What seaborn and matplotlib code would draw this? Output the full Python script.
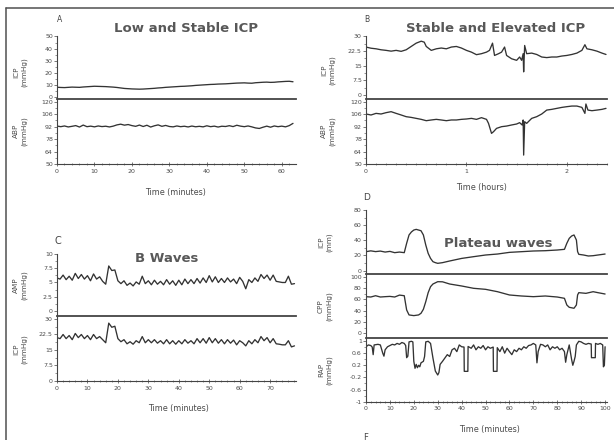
import matplotlib
matplotlib.use("Agg")
import matplotlib.pyplot as plt
import seaborn as sns
from matplotlib.ticker import MultipleLocator, AutoMinorLocator, FixedLocator, FixedFormatter
from matplotlib.lines import Line2D

# ---------------- data ----------------
# Panel A: Low and Stable ICP (time in minutes)
A_time = list(range(64))
A_icp = [8.2, 8.0, 7.9, 8.1, 8.3, 8.2, 8.1, 8.4, 8.6, 8.8, 9.0, 8.9, 8.8, 8.7, 8.5, 8.3,
         8.0, 7.6, 7.2, 7.0, 6.8, 6.7, 6.6, 6.7, 6.9, 7.1, 7.3, 7.6, 7.8, 8.1, 8.3, 8.5,
         8.7, 8.9, 9.0, 9.2, 9.4, 9.7, 9.9, 10.1, 10.3, 10.5, 10.6, 10.8, 10.9, 11.0, 11.2, 11.4,
         11.6, 11.7, 11.8, 11.6, 11.5, 11.9, 12.1, 12.3, 12.4, 12.2, 12.3, 12.6, 12.8, 13.0, 13.1, 12.7]
A_abp = [92.5, 91.8, 92.6, 91.5, 92.2, 93.0, 91.4, 93.6, 91.8, 92.4, 91.6, 92.6, 91.9, 92.3, 91.5, 92.4,
         93.8, 94.6, 93.5, 94.2, 93.0, 92.2, 93.6, 92.0, 93.4, 91.4, 92.8, 93.8, 92.2, 93.2, 92.0, 91.6,
         92.6, 91.8, 92.3, 91.5, 92.5, 91.7, 92.2, 91.6, 92.8, 91.8, 92.4, 91.4, 92.3, 92.0, 92.9, 91.9,
         93.4, 92.4, 91.8, 92.6, 91.6, 90.4, 89.8, 91.2, 92.4, 91.2, 92.6, 91.8, 92.4, 91.6, 93.0, 95.5]

# Panel B: Stable and Elevated ICP (time in hours)
B_icp_time = [0, 0.05, 0.1, 0.15, 0.2, 0.25, 0.3, 0.35, 0.4, 0.45,
              0.5, 0.55, 0.58, 0.6, 0.65, 0.7, 0.75, 0.8, 0.85, 0.9,
              0.95, 1.0, 1.05, 1.1, 1.15, 1.2, 1.23, 1.26, 1.28, 1.32,
              1.35, 1.38, 1.4, 1.45, 1.5, 1.53, 1.55, 1.565, 1.57, 1.58,
              1.6, 1.65, 1.7, 1.75, 1.8, 1.85, 1.9, 1.95, 2.0, 2.05,
              2.1, 2.15, 2.18, 2.2, 2.25, 2.3, 2.35, 2.39]
B_icp = [24.6, 24.0, 23.7, 23.2, 22.9, 22.5, 22.9, 22.4, 23.2, 24.9,
         26.6, 27.6, 27.1, 24.9, 22.9, 23.7, 24.1, 23.7, 24.6, 24.9,
         24.1, 22.9, 22.0, 20.7, 21.2, 22.0, 22.9, 26.6, 20.3, 21.2,
         22.0, 24.6, 20.3, 18.6, 17.8, 19.5, 17.8, 21.2, 11.9, 25.4,
         21.2, 21.5, 20.8, 19.5, 19.2, 19.5, 19.5, 20.0, 20.3, 20.8,
         21.5, 22.9, 25.8, 23.7, 23.2, 22.5, 21.5, 20.8]
B_abp_time = [0, 0.05, 0.1, 0.15, 0.2, 0.25, 0.3, 0.35, 0.4, 0.45,
              0.5, 0.55, 0.6, 0.65, 0.7, 0.75, 0.8, 0.85, 0.9, 0.95,
              1.0, 1.05, 1.1, 1.15, 1.2, 1.22, 1.25, 1.27, 1.3, 1.35,
              1.4, 1.45, 1.5, 1.53, 1.555, 1.565, 1.57, 1.58, 1.6, 1.65,
              1.7, 1.75, 1.8, 1.85, 1.9, 1.95, 2.0, 2.05, 2.1, 2.15,
              2.18, 2.19, 2.21, 2.25, 2.3, 2.35, 2.39]
B_abp = [106.0, 104.9, 106.7, 106.0, 107.5, 108.6, 106.7, 104.9, 103.0, 102.2,
         101.1, 100.0, 98.5, 99.3, 100.0, 99.3, 98.5, 99.3, 99.3, 100.0,
         100.4, 101.1, 100.0, 101.9, 100.0, 95.5, 84.3, 86.2, 89.9, 91.8,
         92.5, 93.7, 94.8, 96.3, 93.7, 99.3, 60.0, 97.4, 95.5, 101.1,
         103.0, 106.0, 110.4, 111.2, 112.3, 113.4, 114.2, 114.9, 114.9, 113.4,
         106.7, 117.2, 110.4, 109.7, 110.4, 111.2, 112.3]

# Panel C: B Waves (time in minutes)
C_time = list(range(79))
C_amp = [5.8, 5.6, 6.3, 5.5, 6.1, 5.4, 6.6, 5.7, 6.4, 5.6, 6.2, 5.3, 6.5, 5.6, 6.0, 5.2, 4.7, 7.9, 7.1, 7.2,
         5.3, 4.8, 5.3, 4.5, 4.9, 4.4, 5.1, 4.7, 6.1, 4.8, 5.3, 4.6, 5.4, 4.7, 5.2, 4.6, 5.5, 4.7, 5.3, 4.5,
         5.4, 4.6, 5.6, 4.8, 5.5, 4.8, 5.7, 4.9, 5.8, 5.0, 6.2, 5.1, 6.0, 5.0, 5.7, 5.0, 5.8, 5.1, 5.6, 4.8,
         5.9, 5.2, 3.9, 5.5, 5.0, 5.8, 5.2, 6.4, 5.7, 6.3, 5.4, 6.3, 5.2, 5.1, 5.0, 5.0, 6.1, 4.7, 4.8]
C_icp = [21, 20.5, 22.5, 20.5, 22, 20, 23, 21, 22.5, 20.5, 22, 20, 22.5, 20.5, 21.5, 20, 18.5, 28, 26, 26.5,
         20.5, 19, 20, 18, 19, 17.8, 19.5, 18.5, 21.5, 18.5, 20, 18.5, 20, 18.3, 19.5, 18, 20, 18, 19.5, 17.8,
         19.5, 18, 20, 18.3, 19.5, 18, 20.5, 18.5, 20.5, 18.3, 21, 18.5, 20.5, 18.3, 20, 18, 20, 18.3, 19.8, 17.5,
         19.5, 18.5, 17, 19.5, 18, 20, 18.5, 21.5, 19.5, 21, 18.5, 20.5, 18, 17.8, 17.5, 17.5, 19.5, 16.5, 17]

# Panel D: Plateau waves (time in minutes)
D_icp_time = [0, 2, 4, 6, 8, 10, 12, 14, 16, 17, 18, 19, 20, 21, 22, 23, 24, 25, 26, 27, 28, 29, 30,
              32, 35, 40, 45, 50, 55, 60, 65, 70, 75, 80, 83, 84, 85, 86, 87, 88, 88.5, 89,
              91, 93, 95, 97, 100]
D_icp = [24.9, 26, 25, 25.7, 24.4, 25.3, 23.6, 24.4, 23.6, 36, 47, 51, 53.5, 54.4, 53.5, 52.6, 47, 33.7,
         22.7, 16, 11.7, 10.4, 9.5, 10.4, 12.6, 16, 18.3, 20.5, 21.8, 24, 24.9, 25.8, 26.2, 27.1,
         28, 36, 42.5, 45.6, 47, 40.3, 25, 21.4, 20.5, 19.2, 19.6, 20.5, 21.8]
D_cpp_time = [0, 2, 4, 6, 8, 10, 12, 14, 16, 17, 18, 20, 22, 23, 24, 25, 26, 27, 28,
              30, 32, 35, 40, 45, 50, 55, 60, 65, 70, 75, 80, 83, 84, 85, 87, 88, 88.5, 89, 92,
              95, 97, 100]
D_cpp = [64.7, 64.1, 66.4, 64.1, 64.7, 65.2, 64.1, 67.5, 66.4, 41.2, 32.4, 31.2, 32.4, 35.3, 42.4,
         55.9, 71.8, 82.4, 87.1, 91.2, 91, 87.1, 83.6, 79.5, 77.7, 73.5, 67.7, 65.9, 64.7, 65.9,
         64.1, 61.8, 50, 45.9, 44.2, 50, 67.7, 71.8, 70.6, 73.5, 71.8, 69.4]
D_rap_time = [0, 1, 2, 2.6, 3, 3.4, 5, 6, 7, 7.5, 8, 9, 10, 11, 12, 13, 14, 15, 16, 16.6, 17, 17.5,
              18, 19, 19.6, 20, 20.5, 21, 21.5, 22, 22.5, 23, 24, 24.5, 25, 26, 27, 28, 29, 30,
              30.5, 31, 32, 33, 34, 35, 36, 37, 38, 39, 40, 41, 41.1, 42.6, 42.7, 44, 45, 46, 47,
              48, 49, 50, 51, 52, 53.2, 53.3, 54.8, 54.9, 56, 57, 58, 59, 60, 61, 62, 63, 64, 65,
              66, 67, 68, 69, 70, 71, 71.5, 72, 73, 74, 75, 76, 77, 78, 79, 80, 81, 82, 83, 83.5,
              84, 85, 86, 86.5, 87, 87.5, 88, 89, 90, 91, 92, 93, 94.2, 94.3, 95.9, 96, 97, 98,
              99, 99.3, 99.7, 100]
D_rap = [0.81, 0.87, 0.85, 0.8, 0.55, 0.87, 0.89, 0.87, 0.6, 0.5, 0.71, 0.81, 0.85, 0.89, 0.87, 0.92,
         0.89, 0.95, 0.92, 0.85, 0.45, 0.5, 0.97, 0.99, 0.97, 0.33, 0.1, 0.23, 0.12, 0.2, 0.15, 0.28,
         0.33, 0.49, 0.97, 0.99, 0.92, 0.44, 0.01, -0.12, -0.04, 0.23, 0.33, 0.44, 0.55, 0.49, 0.71,
         0.76, 0.65, 0.87, 0.81, 0.8, 0.0, 0.0, 0.82, 0.76, 0.87, 0.71, 0.81, 0.76, 0.85, 0.71, 0.81,
         0.76, 0.8, 0.0, 0.0, 0.78, 0.65, 0.81, 0.6, 0.76, 0.65, 0.55, 0.71, 0.65, 0.76, 0.71, 0.81,
         0.76, 0.85, 0.87, 0.92, 0.87, 0.28, 0.65, 0.89, 0.87, 0.81, 0.87, 0.71, 0.81, 0.76, 0.81,
         0.71, 0.76, 0.65, 0.3, 0.55, 0.87, 0.39, 0.2, 0.33, 0.49, 0.87, 0.99, 0.97, 0.92, 0.89,
         0.92, 0.9, 0.45, 0.45, 0.92, 0.89, 0.92, 0.87, 0.15, 0.2, 0.81]

# ---------------- figure ----------------
sns.set_theme(style="white")
plt.rcParams['font.family'] = ['DejaVu Sans']
plt.rcParams['axes.unicode_minus'] = False

W, H = 614, 440
fig = plt.figure(figsize=(W / 100, H / 100), dpi=100)
fig.patch.set_facecolor('white')

LINE = '#333333'
TXT = '#4a4a4a'
SP = '#444444'


def axes_px(x0, x1, yt, yb):
    return fig.add_axes([x0 / W, 1 - yb / H, (x1 - x0) / W, (yb - yt) / H])


def fx(x):
    return x / W


def fy(y):
    return 1 - y / H


def style(ax, upper, xlim, ylim, yticks, ylabel, ylab_xy, xticks=None, xminor=None,
          xlabel=None, xlab_xy=None):
    ax.set_facecolor('none')
    ax.set_xlim(xlim)
    ax.set_ylim(ylim)
    for s in ['top', 'right']:
        ax.spines[s].set_visible(False)
    ax.spines['left'].set_color(SP)
    ax.spines['left'].set_linewidth(0.8)
    ax.spines['bottom'].set_color(SP)
    ax.yaxis.set_major_locator(FixedLocator(yticks))
    ax.yaxis.set_major_formatter(FixedFormatter(['%g' % v for v in yticks]))
    ax.yaxis.set_minor_locator(AutoMinorLocator(2))
    ax.tick_params(axis='y', which='major', left=True, length=2, width=0.5, pad=1,
                   labelsize=4.5, color=SP, labelcolor=TXT)
    ax.tick_params(axis='y', which='minor', left=True, length=1.2, width=0.4, color=SP)
    if upper:
        ax.spines['bottom'].set_linewidth(1.3)
        ax.tick_params(axis='x', which='both', bottom=False, labelbottom=False)
        ax.set_xlabel('')
    else:
        ax.spines['bottom'].set_linewidth(0.8)
        ax.xaxis.set_major_locator(FixedLocator(xticks))
        ax.xaxis.set_major_formatter(FixedFormatter(['%g' % v for v in xticks]))
        ax.xaxis.set_minor_locator(MultipleLocator(xminor))
        ax.tick_params(axis='x', which='major', bottom=True, length=2.5, width=0.5, pad=2,
                       direction='inout', labelsize=4.5, color=SP, labelcolor=TXT)
        ax.tick_params(axis='x', which='minor', bottom=True, length=1.6, width=0.4,
                       direction='inout', color=SP)
        ax.set_xlabel(xlabel, fontsize=5.8, color=TXT, va='center')
        ax.xaxis.set_label_coords(fx(xlab_xy[0]), fy(xlab_xy[1]), transform=fig.transFigure)
    ax.set_ylabel(ylabel, fontsize=5.2, color=TXT, va='center', linespacing=1.35)
    ax.yaxis.set_label_coords(fx(ylab_xy[0]), fy(ylab_xy[1]), transform=fig.transFigure)
    ax.grid(False)


def draw(ax, t, v):
    sns.lineplot(x=t, y=v, ax=ax, color=LINE, linewidth=0.95, estimator=None, sort=False)


# Panel A
axA1 = axes_px(57, 296, 36.5, 99)
axA2 = axes_px(57, 296, 99, 164)
draw(axA1, A_time, A_icp)
draw(axA2, A_time, A_abp)
style(axA1, True, (0, 63.8), (-1.5, 50), [0, 10, 20, 30, 40, 50], 'ICP\n(mmHg)', (20, 72))
style(axA2, False, (0, 63.8), (50, 122.8), [50, 64, 78, 92, 106, 120], 'ABP\n(mmHg)', (20, 131),
      xticks=[0, 10, 20, 30, 40, 50, 60], xminor=2, xlabel='Time (minutes)', xlab_xy=(176, 192))

# Panel B
axB1 = axes_px(366, 607, 36.5, 99)
axB2 = axes_px(366, 607, 99, 164)
draw(axB1, B_icp_time, B_icp)
draw(axB2, B_abp_time, B_abp)
style(axB1, True, (0, 2.40), (-2, 30), [0, 7.5, 15, 22.5, 30], 'ICP\n(mmHg)', (328, 70))
style(axB2, False, (0, 2.40), (50, 122.8), [50, 64, 78, 92, 106, 120], 'ABP\n(mmHg)', (328, 131),
      xticks=[0, 1, 2], xminor=0.1, xlabel='Time (hours)', xlab_xy=(482, 187))

# Panel C
axC1 = axes_px(57, 296, 254, 316)
axC2 = axes_px(57, 296, 316, 381)
draw(axC1, C_time, C_amp)
draw(axC2, C_time, C_icp)
style(axC1, True, (0, 78.5), (-0.88, 10), [0, 2.5, 5, 7.5, 10], 'AMP\n(mmHg)', (20, 285))
style(axC2, False, (0, 78.5), (0, 31.45), [0, 7.5, 15, 22.5, 30], 'ICP\n(mmHg)', (20, 349),
      xticks=[0, 10, 20, 30, 40, 50, 60, 70], xminor=2, xlabel='Time (minutes)', xlab_xy=(179, 408))

# Panel D
axD1 = axes_px(366, 607, 210, 274)
axD2 = axes_px(366, 607, 274, 337.5)
axD3 = axes_px(366, 607, 337.5, 401.7)
draw(axD1, D_icp_time, D_icp)
draw(axD2, D_cpp_time, D_cpp)
draw(axD3, D_rap_time, D_rap)
style(axD1, True, (0, 100.8), (-4.6, 80), [0, 20, 40, 60, 80], 'ICP\n(mm)', (325, 242))
style(axD2, True, (0, 100.8), (-7.5, 104.8), [0, 20, 40, 60, 80, 100], 'CPP\n(mmHg)', (325, 306))
style(axD3, False, (0, 100.8), (-1, 1.115), [-1, -0.6, -0.2, 0.2, 0.6, 1], 'RAP\n(mmHg)', (325, 370),
      xticks=[0, 10, 20, 30, 40, 50, 60, 70, 80, 90, 100], xminor=2, xlabel='Time (minutes)',
      xlab_xy=(490, 429))

# Titles and panel letters
title_kw = dict(fontsize=9.5, fontweight='bold', color='#585858', ha='center', va='center')
fig.text(fx(186), fy(28), 'Low and Stable ICP', **title_kw)
fig.text(fx(496), fy(28), 'Stable and Elevated ICP', **title_kw)
fig.text(fx(167), fy(258), 'B Waves', **title_kw)
fig.text(fx(498), fy(243), 'Plateau waves', **title_kw)

let_kw = dict(color='#454545', ha='center', va='center')
fig.text(fx(60), fy(20), 'A', fontsize=5.5, **let_kw)
fig.text(fx(367), fy(20), 'B', fontsize=5.5, **let_kw)
fig.text(fx(58), fy(241), 'C', fontsize=7, **let_kw)
fig.text(fx(367), fy(197), 'D', fontsize=6.5, **let_kw)
fig.text(fx(366), fy(437), 'F', fontsize=6, **let_kw)

# Frame lines (top and left border)
fig.add_artist(Line2D([fx(6), 1], [fy(8), fy(8)], transform=fig.transFigure, color='#505050', lw=1.1))
fig.add_artist(Line2D([fx(6), fx(6)], [fy(8), 0], transform=fig.transFigure, color='#505050', lw=1.1))

fig.savefig('out.png', dpi=100, facecolor='white')
